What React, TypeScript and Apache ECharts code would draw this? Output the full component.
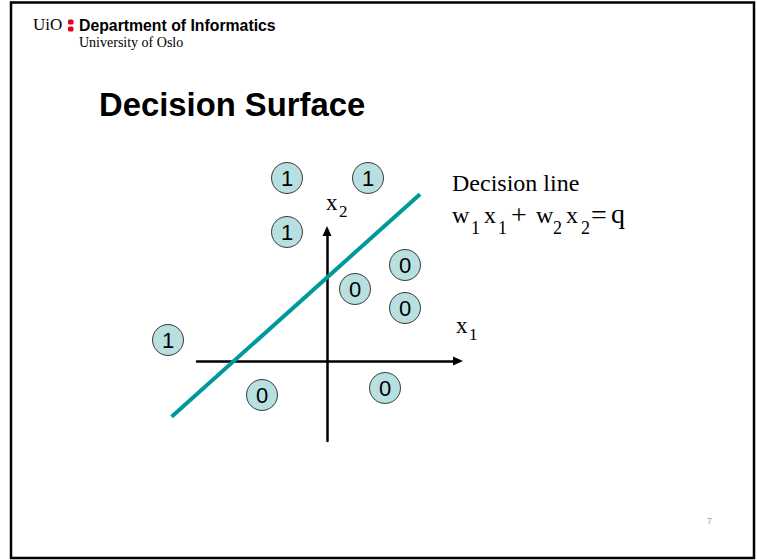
import React, { useEffect, useRef } from "react";
import * as echarts from "echarts";

// ---- data ----
const pointClasses = ["1", "1", "1", "0", "0", "0", "1", "0", "0"];
const pointX = [-2.0, 2.05, -2.0, 3.9, 1.4, 3.9, -7.95, -3.25, 2.9];
const pointY = [9.15, 9.15, 6.45, 4.8, 3.6, 2.65, 1.05, -1.7, -1.35];
const decisionLineX = [-7.77, 4.65];
const decisionLineY = [-2.79, 8.34];

const SERIF = "'Liberation Serif', 'Times New Roman', serif";
const SANS = "'Liberation Sans', Arial, sans-serif";

function txt(
  text: string,
  x: number,
  baseline: number,
  size: number,
  family: string,
  weight: string = "normal",
  fill: string = "#000"
) {
  return {
    type: "text",
    x,
    y: baseline - 0.34 * size,
    silent: true,
    style: {
      text,
      font: `${weight} ${size}px ${family}`,
      fill,
      textAlign: "left",
      align: "left",
      textVerticalAlign: "middle",
      verticalAlign: "middle",
    },
  };
}

export default function App() {
  const ref = useRef<HTMLDivElement>(null);
  useEffect(() => {
    if (!ref.current) return;
    const chart = echarts.init(ref.current, null, { renderer: "svg" });
    const scatterData = pointX.map((x, i) => ({
      value: [x, pointY[i]],
      label: { formatter: pointClasses[i] },
    }));
    const lineData = [
      [decisionLineX[0], decisionLineY[0], decisionLineX[1], decisionLineY[1]],
    ];

    const option: any = {
      animation: false,
      backgroundColor: "#fff",
      grid: { left: 197, top: 231, width: 261, height: 210, containLabel: false },
      xAxis: {
        type: "value",
        min: -6.5,
        max: 6.55,
        axisLine: {
          show: true,
          onZero: true,
          lineStyle: { color: "#000", width: 2.5 },
          symbol: ["none", "triangle"],
          symbolSize: [9, 10],
        },
        axisTick: { show: false },
        axisLabel: { show: false },
        splitLine: { show: false },
      },
      yAxis: {
        type: "value",
        min: -4.0,
        max: 6.5,
        axisLine: {
          show: true,
          onZero: true,
          lineStyle: { color: "#000", width: 2.5 },
          symbol: ["none", "triangle"],
          symbolSize: [9, 10],
        },
        axisTick: { show: false },
        axisLabel: { show: false },
        splitLine: { show: false },
      },
      series: [
        {
          type: "custom",
          data: lineData,
          clip: false,
          encode: { x: [0, 2], y: [1, 3] },
          renderItem: (params: any, api: any) => {
            const p1 = api.coord([api.value(0), api.value(1)]);
            const p2 = api.coord([api.value(2), api.value(3)]);
            return {
              type: "line",
              shape: { x1: p1[0], y1: p1[1], x2: p2[0], y2: p2[1] },
              style: { stroke: "#009999", lineWidth: 4, lineCap: "butt" },
            };
          },
          silent: true,
          z: 3,
        },
        {
          type: "scatter",
          data: scatterData,
          clip: false,
          symbol: "circle",
          symbolSize: 31,
          itemStyle: { color: "#b9e0e0", borderColor: "#3a3a3a", borderWidth: 1, opacity: 1 },
          label: {
            show: true,
            position: "inside",
            color: "#000",
            fontSize: 22,
            fontFamily: "Liberation Sans",
          },
          emphasis: { disabled: true },
          z: 4,
        },
      ],
      graphic: [
        {
          type: "rect",
          shape: { x: 11, y: 2.5, width: 743, height: 555.5 },
          style: { fill: "none", stroke: "#000", lineWidth: 2.5 },
          silent: true,
        },
        txt("UiO", 33, 30.5, 17, SERIF),
        {
          type: "rect",
          shape: { x: 68, y: 19.5, width: 5.5, height: 5, r: 1.5 },
          style: { fill: "#e2001a" },
          silent: true,
        },
        {
          type: "rect",
          shape: { x: 68, y: 26.5, width: 5.5, height: 5, r: 1.5 },
          style: { fill: "#e2001a" },
          silent: true,
        },
        txt("Department of Informatics", 79, 30.5, 15.8, SANS, "bold"),
        txt("University of Oslo", 79, 47, 14, SERIF),
        txt("Decision Surface", 99, 116, 32.8, SANS, "bold"),
        txt("Decision line", 452, 191, 24, SERIF),
        txt("w", 452, 223, 24, SERIF),
        txt("1", 471, 234, 18, SERIF),
        txt("x", 484, 223, 24, SERIF),
        txt("1", 498, 234, 18, SERIF),
        txt("+", 511, 224, 28, SERIF),
        txt("w", 536, 223, 24, SERIF),
        txt("2", 553, 234, 18, SERIF),
        txt("x", 566, 223, 24, SERIF),
        txt("2", 581, 234, 18, SERIF),
        txt("=", 591, 224, 28, SERIF),
        txt("q", 611, 223, 28, SERIF),
        txt("x", 326, 210, 23, SERIF),
        txt("2", 339, 217, 17, SERIF),
        txt("x", 456, 333, 23, SERIF),
        txt("1", 469, 340, 17, SERIF),
        txt("7", 707, 524, 8.5, SANS, "normal", "#999"),
      ],
    };
    chart.setOption(option);
    return () => chart.dispose();
  }, []);
  return (
    <div
      ref={ref}
      style={{ position: "absolute", left: 0, top: 0, width: 757, height: 560 }}
    />
  );
}
